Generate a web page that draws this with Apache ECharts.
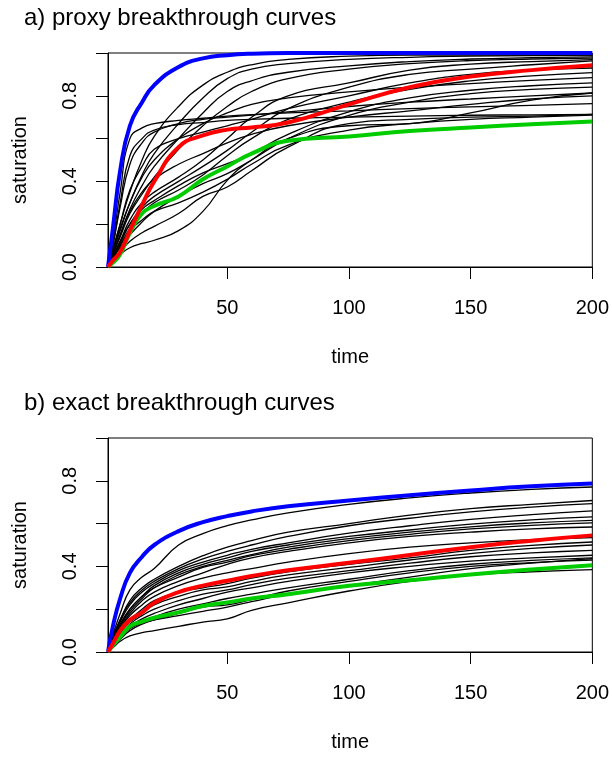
<!DOCTYPE html>
<html>
<head>
<meta charset="utf-8">
<script src="https://cdn.jsdelivr.net/npm/echarts@6/dist/echarts.min.js"></script>
<style>
  html, body { margin: 0; padding: 0; background: #fff; }
  #chart { width: 612px; height: 760px; }
</style>
</head>
<body>
<div id="chart"></div>
<script>
// sample times (x) shared by every curve
var times = [1, 3, 6, 10, 15, 20, 30, 40, 50, 60, 75, 100, 125, 150, 175, 200];
var xTicks = [50, 100, 150, 200];
var yLabels = [0, 0.4, 0.8];

// a) proxy breakthrough curves
var proxyBlue  = [0, 0.18, 0.45, 0.66, 0.77, 0.85, 0.935, 0.975, 0.99, 0.997, 1, 1, 1, 1, 1, 1];
var proxyRed   = [0, 0.03, 0.07, 0.17, 0.29, 0.40, 0.56, 0.615, 0.642, 0.652, 0.675, 0.76, 0.84, 0.89, 0.92, 0.943];
var proxyGreen = [0, 0.02, 0.06, 0.16, 0.25, 0.285, 0.33, 0.41, 0.47, 0.53, 0.59, 0.61, 0.635, 0.652, 0.667, 0.68];
var proxyBlack = [
  [0, 0.08, 0.20, 0.35, 0.50, 0.61, 0.75, 0.85, 0.91, 0.945, 0.97, 0.985, 0.99, 0.99, 0.99, 0.99],
  [0, 0.07, 0.18, 0.30, 0.43, 0.53, 0.67, 0.79, 0.88, 0.925, 0.95, 0.97, 0.98, 0.985, 0.988, 0.99],
  [0, 0.06, 0.15, 0.27, 0.38, 0.47, 0.60, 0.72, 0.82, 0.87, 0.91, 0.94, 0.96, 0.972, 0.978, 0.982],
  [0, 0.06, 0.14, 0.25, 0.34, 0.42, 0.55, 0.66, 0.75, 0.82, 0.88, 0.925, 0.95, 0.965, 0.972, 0.976],
  [0, 0.12, 0.35, 0.60, 0.65, 0.67, 0.685, 0.695, 0.705, 0.712, 0.72, 0.73, 0.74, 0.748, 0.755, 0.763],
  [0, 0.10, 0.30, 0.52, 0.60, 0.64, 0.665, 0.675, 0.685, 0.69, 0.695, 0.70, 0.705, 0.709, 0.711, 0.713],
  [0, 0.10, 0.28, 0.48, 0.58, 0.63, 0.67, 0.69, 0.70, 0.71, 0.725, 0.75, 0.77, 0.785, 0.80, 0.813],
  [0, 0.05, 0.12, 0.22, 0.30, 0.35, 0.42, 0.50, 0.60, 0.70, 0.80, 0.86, 0.92, 0.948, 0.96, 0.969],
  [0, 0.05, 0.11, 0.20, 0.28, 0.33, 0.40, 0.47, 0.545, 0.63, 0.74, 0.84, 0.90, 0.925, 0.945, 0.963],
  [0, 0.07, 0.17, 0.30, 0.42, 0.50, 0.60, 0.67, 0.72, 0.76, 0.79, 0.818, 0.84, 0.857, 0.872, 0.885],
  [0, 0.04, 0.10, 0.18, 0.25, 0.30, 0.36, 0.43, 0.52, 0.60, 0.69, 0.77, 0.83, 0.87, 0.893, 0.908],
  [0, 0.05, 0.12, 0.20, 0.27, 0.31, 0.38, 0.44, 0.483, 0.53, 0.62, 0.725, 0.79, 0.826, 0.847, 0.86],
  [0, 0.04, 0.09, 0.15, 0.21, 0.26, 0.33, 0.39, 0.436, 0.50, 0.60, 0.709, 0.77, 0.81, 0.83, 0.841],
  [0, 0.03, 0.06, 0.09, 0.11, 0.125, 0.17, 0.26, 0.405, 0.50, 0.60, 0.66, 0.67, 0.72, 0.78, 0.813],
  [0, 0.03, 0.07, 0.12, 0.16, 0.19, 0.25, 0.33, 0.374, 0.45, 0.56, 0.67, 0.69, 0.70, 0.705, 0.713],
  [0, 0.08, 0.20, 0.36, 0.47, 0.55, 0.60, 0.63, 0.66, 0.69, 0.74, 0.80, 0.86, 0.90, 0.92, 0.93],
  [0, 0.06, 0.15, 0.26, 0.35, 0.41, 0.48, 0.53, 0.58, 0.62, 0.66, 0.70, 0.73, 0.76, 0.785, 0.80],
  [0, 0.04, 0.10, 0.17, 0.22, 0.26, 0.30, 0.35, 0.41, 0.48, 0.57, 0.64, 0.67, 0.69, 0.70, 0.71]
];

// b) exact breakthrough curves
var exactBlue  = [0, 0.12, 0.25, 0.37, 0.445, 0.50, 0.565, 0.607, 0.635, 0.657, 0.681, 0.708, 0.733, 0.755, 0.774, 0.787];
var exactRed   = [0, 0.04, 0.10, 0.15, 0.185, 0.23, 0.28, 0.31, 0.333, 0.355, 0.382, 0.417, 0.453, 0.49, 0.52, 0.545];
var exactGreen = [0, 0.03, 0.07, 0.12, 0.142, 0.16, 0.185, 0.215, 0.232, 0.25, 0.27, 0.31, 0.335, 0.362, 0.385, 0.405];
var exactBlack = [
  [0, 0.08, 0.18, 0.29, 0.35, 0.39, 0.50, 0.553, 0.59, 0.617, 0.65, 0.69, 0.72, 0.743, 0.76, 0.771],
  [0, 0.07, 0.15, 0.24, 0.30, 0.34, 0.40, 0.45, 0.49, 0.52, 0.56, 0.60, 0.64, 0.67, 0.69, 0.708],
  [0, 0.07, 0.15, 0.23, 0.29, 0.33, 0.39, 0.435, 0.47, 0.50, 0.54, 0.59, 0.625, 0.655, 0.677, 0.693],
  [0, 0.06, 0.14, 0.22, 0.28, 0.32, 0.38, 0.42, 0.452, 0.48, 0.51, 0.555, 0.59, 0.62, 0.642, 0.659],
  [0, 0.06, 0.13, 0.20, 0.26, 0.31, 0.37, 0.41, 0.44, 0.47, 0.50, 0.54, 0.57, 0.598, 0.617, 0.631],
  [0, 0.06, 0.12, 0.19, 0.25, 0.30, 0.36, 0.40, 0.428, 0.455, 0.49, 0.53, 0.56, 0.585, 0.603, 0.615],
  [0, 0.05, 0.12, 0.20, 0.26, 0.30, 0.35, 0.395, 0.42, 0.45, 0.48, 0.52, 0.55, 0.575, 0.592, 0.603],
  [0, 0.05, 0.11, 0.18, 0.24, 0.28, 0.33, 0.37, 0.41, 0.44, 0.47, 0.51, 0.54, 0.56, 0.575, 0.584],
  [0, 0.04, 0.09, 0.15, 0.20, 0.24, 0.28, 0.30, 0.32, 0.345, 0.375, 0.41, 0.44, 0.475, 0.498, 0.514],
  [0, 0.04, 0.09, 0.14, 0.18, 0.22, 0.26, 0.29, 0.304, 0.33, 0.36, 0.395, 0.43, 0.46, 0.484, 0.50],
  [0, 0.04, 0.08, 0.13, 0.17, 0.20, 0.24, 0.27, 0.29, 0.315, 0.345, 0.38, 0.415, 0.445, 0.463, 0.475],
  [0, 0.03, 0.08, 0.12, 0.155, 0.18, 0.22, 0.25, 0.28, 0.30, 0.33, 0.37, 0.40, 0.425, 0.44, 0.452],
  [0, 0.03, 0.07, 0.11, 0.14, 0.165, 0.20, 0.225, 0.25, 0.27, 0.30, 0.34, 0.38, 0.41, 0.428, 0.44],
  [0, 0.03, 0.06, 0.10, 0.13, 0.15, 0.18, 0.21, 0.22, 0.245, 0.285, 0.33, 0.37, 0.40, 0.418, 0.43],
  [0, 0.02, 0.05, 0.075, 0.09, 0.10, 0.12, 0.14, 0.155, 0.195, 0.23, 0.285, 0.33, 0.36, 0.375, 0.385],
  [0, 0.03, 0.07, 0.11, 0.135, 0.15, 0.17, 0.19, 0.21, 0.235, 0.27, 0.31, 0.35, 0.39, 0.415, 0.436],
  [0, 0.05, 0.11, 0.17, 0.22, 0.26, 0.31, 0.345, 0.37, 0.39, 0.42, 0.46, 0.49, 0.51, 0.525, 0.535]
];

var font = 'Liberation Sans, Arial, Helvetica, sans-serif';

function pts(vals) {
  return times.map(function (t, i) { return [t, vals[i]]; });
}

function line(idx, vals, color, width) {
  return {
    type: 'line',
    xAxisIndex: idx,
    yAxisIndex: idx,
    data: pts(vals),
    smooth: 0.5,
    showSymbol: false,
    silent: true,
    lineStyle: { color: color, width: width }
  };
}

function xAx(idx) {
  return {
    gridIndex: idx,
    type: 'value',
    min: 1,
    max: 200,
    name: 'time',
    nameLocation: 'middle',
    nameGap: 80,
    nameTextStyle: { fontSize: 20, color: '#000', fontFamily: font },
    axisLine: { show: true, onZero: false, lineStyle: { color: '#000', width: 1 } },
    axisTick: { show: true, customValues: xTicks, length: 12, lineStyle: { color: '#000' } },
    axisLabel: { customValues: xTicks, fontSize: 20, color: '#000', fontFamily: font, margin: 31 },
    splitLine: { show: false }
  };
}

function yAx(idx) {
  return {
    gridIndex: idx,
    type: 'value',
    min: 0,
    max: 1,
    interval: 0.2,
    name: 'saturation',
    nameLocation: 'middle',
    nameGap: 78,
    nameTextStyle: { fontSize: 20, color: '#000', fontFamily: font },
    axisLine: { show: true, lineStyle: { color: '#000', width: 1 } },
    axisTick: { show: true, length: 12, lineStyle: { color: '#000' } },
    axisLabel: {
      customValues: yLabels, rotate: 90, fontSize: 20, color: '#000', fontFamily: font, margin: 28,
      formatter: function (v) { return Number(v).toFixed(1); }
    },
    splitLine: { show: false }
  };
}

var series = [];
proxyBlack.forEach(function (c) { series.push(line(0, c, '#000', 1.3)); });
series.push(line(0, proxyBlue, '#0000ff', 4));
series.push(line(0, proxyGreen, '#00cc00', 4));
series.push(line(0, proxyRed, '#ff0000', 4));
exactBlack.forEach(function (c) { series.push(line(1, c, '#000', 1.3)); });
series.push(line(1, exactBlue, '#0000ff', 4));
series.push(line(1, exactGreen, '#00cc00', 4));
series.push(line(1, exactRed, '#ff0000', 4));

var chart = echarts.init(document.getElementById('chart'), null, { renderer: 'canvas' });
chart.setOption({
  animation: false,
  backgroundColor: '#fff',
  title: [
    { text: 'a) proxy breakthrough curves', left: 24, top: 6, padding: 0,
      textStyle: { fontSize: 24, fontWeight: 'normal', color: '#000', fontFamily: font } },
    { text: 'b) exact breakthrough curves', left: 24, top: 391, padding: 0,
      textStyle: { fontSize: 24, fontWeight: 'normal', color: '#000', fontFamily: font } }
  ],
  grid: [
    { left: 108, top: 53, width: 485, height: 214, show: true, borderColor: '#000', borderWidth: 1 },
    { left: 108, top: 438, width: 485, height: 214, show: true, borderColor: '#000', borderWidth: 1 }
  ],
  xAxis: [xAx(0), xAx(1)],
  yAxis: [yAx(0), yAx(1)],
  series: series
});
</script>
</body>
</html>
